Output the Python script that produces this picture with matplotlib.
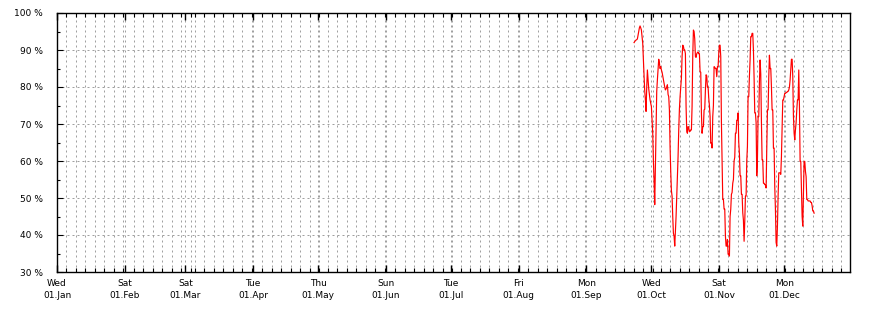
import numpy as np
import pandas as pd
import matplotlib
matplotlib.use("Agg")
import matplotlib.pyplot as plt

# series start and sampling step
start = "2014-09-23 00:00"
step = "441min"
values = [
    92.0, 92.3, 92.5, 92.7, 92.8, 93.0, 94.0, 95.0, 96.0, 96.5,
    96.0, 95.4, 93.5, 91.8, 87.0, 83.0, 79.0, 76.5, 73.4, 80.0,
    84.6, 82.0, 79.5, 78.0, 76.5, 75.6, 74.7, 71.0, 67.5, 60.0,
    55.0, 48.2, 58.0, 68.4, 78.8, 82.0, 84.6, 87.5, 86.5, 85.0,
    85.5, 84.6, 84.0, 83.0, 82.0, 81.0, 80.0, 79.2, 79.5, 80.0,
    80.6, 78.0, 77.4, 73.8, 63.9, 57.2, 52.0, 50.5, 45.0, 40.5,
    39.7, 37.0, 41.0, 45.0, 50.0, 55.8, 61.2, 68.4, 74.0, 77.4,
    80.0, 82.4, 88.2, 91.3, 91.0, 90.0, 90.0, 89.0, 74.7, 68.0,
    67.5, 69.3, 69.0, 68.0, 68.0, 68.4, 68.4, 74.7, 88.2, 95.4,
    95.0, 93.0, 88.2, 88.0, 89.0, 89.3, 89.5, 89.0, 89.0, 84.2,
    84.0, 73.0, 67.5, 69.3, 69.3, 73.8, 74.0, 79.2, 83.3, 83.0,
    80.0, 80.0, 77.0, 75.0, 72.0, 64.8, 65.0, 63.5, 72.0, 75.0,
    85.5, 85.3, 85.0, 85.0, 82.8, 85.5, 85.5, 89.0, 91.3, 91.3,
    88.2, 70.4, 59.4, 49.6, 49.6, 47.0, 47.0, 39.7, 37.0, 37.0,
    38.8, 34.8, 34.8, 34.3, 45.0,
    47.0, 51.0, 51.5, 54.0, 55.0, 60.0, 61.0, 67.5, 67.5, 71.0,
    71.0, 73.0, 65.0, 62.0, 56.0, 56.0, 51.0, 51.0, 46.0, 44.0,
    38.3, 43.7, 50.5, 50.5, 60.0, 64.0, 77.4, 77.4, 83.0, 87.3,
    93.6, 93.6, 94.5, 94.5, 90.0, 82.4, 73.0, 73.0, 70.4, 56.0,
    60.3, 72.0, 72.0, 81.5, 87.3, 83.5, 70.4, 60.3, 60.3, 54.0,
    54.0, 53.6, 53.6, 52.7, 63.0, 73.8, 73.8, 82.8, 88.6, 85.0,
    85.0, 80.0, 73.8, 73.8, 63.5, 63.5, 53.0, 46.9, 38.0, 37.0,
    42.4, 50.5, 56.8, 56.8, 56.8, 56.4, 61.2, 69.3, 76.5, 76.5,
    77.4, 78.3, 78.3, 78.5, 78.5, 78.8, 78.8, 79.2, 80.0, 81.9,
    84.6, 87.5, 87.5, 82.8, 72.0, 67.5, 65.7, 68.4, 70.4, 73.8,
    76.5, 76.5, 84.6, 74.7, 59.9, 59.9, 52.3, 45.0, 42.4, 50.5,
    59.9, 59.9, 57.2, 55.8, 49.6, 49.6, 49.2, 49.2, 49.2, 49.2,
    48.8, 48.8, 47.9, 46.5, 46.5, 45.9,
]
times = pd.date_range(start, periods=len(values), freq=step)

month_starts = pd.date_range("2014-01-01", "2014-12-01", freq="MS")
ytick_vals = [30, 40, 50, 60, 70, 80, 90, 100]

fig = plt.figure(figsize=(8.7, 3.1), dpi=100)
ax = fig.add_axes([57 / 870, 38 / 310, 793 / 870, 259 / 310])

ax.plot(times, values, color="#ff0000", lw=0.85)

ax.set_xlim(pd.Timestamp("2014-01-01"), pd.Timestamp("2014-12-31 04:00"))
ax.set_ylim(30, 100)

# major ticks at month starts, 7 minor lines per month
ax.set_xticks(month_starts)
ax.set_xticklabels([d.strftime("%a\n%d.%b") for d in month_starts])
minor = []
for m in month_starts:
    for k in range(1, 8):
        minor.append(m + pd.Timedelta(days=4.36 * k))
minor = [t for t in minor if t < pd.Timestamp("2014-12-31")]
ax.set_xticks(minor, minor=True)

ax.set_yticks(ytick_vals)
ax.set_yticklabels(["%d %%" % v for v in ytick_vals])
ax.set_yticks(np.arange(35, 100, 10), minor=True)

grid_kw = dict(color="#a0a0a0", lw=0.72, linestyle=(0, (2, 3)))
ax.grid(True, which="both", axis="x", **grid_kw)
ax.grid(True, which="major", axis="y", **grid_kw)
ax.set_axisbelow(True)

ax.tick_params(axis="x", which="major", direction="in", top=True, bottom=True,
               length=5, width=1, labelsize=6.5, pad=5, color="black")
ax.tick_params(axis="x", which="minor", direction="in", top=True, bottom=True,
               length=3, width=0.8, color="black")
ax.tick_params(axis="y", which="major", direction="in", left=True, right=False,
               length=4, width=0.8, labelsize=6.5, pad=10)
ax.tick_params(axis="y", which="minor", direction="in", left=True, right=False,
               length=2, width=0.8)
for lbl in ax.get_xticklabels():
    lbl.set_linespacing(1.5)

for s in ax.spines.values():
    s.set_color("black")
    s.set_linewidth(1.0)

fig.savefig("out.png", dpi=100)
